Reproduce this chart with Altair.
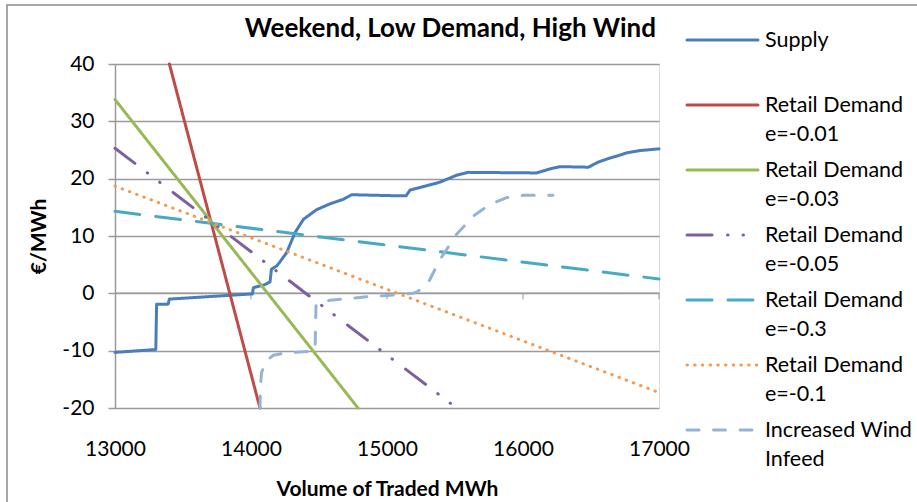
import altair as alt
import pandas as pd

FONT = "Lato"
GRID = "#9a9a9a"

TITLE = "Weekend, Low Demand, High Wind"
X_TITLE = "Volume of Traded MWh"
Y_TITLE = "€/MWh"

x_ticks = [13000, 14000, 15000, 16000, 17000]
y_ticks = [-20, -10, 0, 10, 20, 30, 40]

series_names = [
    "Supply",
    "Retail Demand e=-0.01",
    "Retail Demand e=-0.03",
    "Retail Demand e=-0.05",
    "Retail Demand e=-0.3",
    "Retail Demand e=-0.1",
    "Increased Wind Infeed",
]
legend_labels = [
    "Supply",
    "Retail Demand\ne=-0.01",
    "Retail Demand\ne=-0.03",
    "Retail Demand\ne=-0.05",
    "Retail Demand\ne=-0.3",
    "Retail Demand\ne=-0.1",
    "Increased Wind\nInfeed",
]
series_colors = ["#4a7ebb", "#be4b48", "#98b954", "#7d60a0", "#46aac5", "#f59a4f", "#95b3d7"]
series_dash = [[1, 0], [1, 0], [1, 0], [25, 15.5, 0.5, 15, 0.5, 16.5], [25, 16], [0.5, 7.2], [12, 14.5]]

supply_x = [13000, 13300, 13306, 13390, 13400, 14010, 14018, 14100, 14140, 14150, 14190, 14213,
            14262, 14324, 14385, 14483, 14580, 14679, 14740, 15100, 15140, 15169, 15267, 15390,
            15512, 15598, 16100, 16199, 16272, 16481, 16554, 16640, 16700, 16762, 16860, 17000]
supply_y = [-10.3, -9.8, -1.9, -1.9, -1.0, -0.1, 1.0, 1.5, 2.0, 4.2, 4.8, 5.5,
            7.1, 10.6, 12.9, 14.6, 15.6, 16.4, 17.2, 17.0, 17.0, 18.0, 18.6, 19.4,
            20.6, 21.1, 21.0, 21.7, 22.1, 22.0, 22.9, 23.6, 24.0, 24.5, 24.9, 25.2]

d001_x = [13400, 14066]
d001_y = [40, -20]
d003_x = [13000, 14787]
d003_y = [33.8, -20]
d005_x = [13000, 15512]
d005_y = [25.3, -20]
d03_x = [13000, 17000]
d03_y = [14.3, 2.5]
d01_x = [13000, 17000]
d01_y = [18.7, -17.3]

wind_x = [14066, 14070, 14078, 14110, 14164, 14238, 14471, 14478, 14581, 14851, 15022, 15193,
          15230, 15304, 15390, 15512, 15635, 15757, 15880, 16002, 16220]
wind_y = [-20, -16, -13.8, -11.8, -10.8, -10.45, -10.05, -1.9, -1.2, -0.6, -0.35, 0.0,
          0.4, 1.9, 5.9, 10.3, 13.5, 15.5, 16.7, 17.1, 17.1]

series_xy = [
    (supply_x, supply_y),
    (d001_x, d001_y),
    (d003_x, d003_y),
    (d005_x, d005_y),
    (d03_x, d03_y),
    (d01_x, d01_y),
    (wind_x, wind_y),
]

rows = []
for name, (xs, ys) in zip(series_names, series_xy):
    for i, (xv, yv) in enumerate(zip(xs, ys)):
        rows.append({"series": name, "x": xv, "y": yv, "i": i})
df = pd.DataFrame(rows)

legend_df = pd.DataFrame({"series": series_names, "label": legend_labels,
                          "order": list(range(len(series_names)))})

W, H = 544, 344
LEG_TOP, LEG_STEP = -24, 65

color_enc = alt.Color("series:N", scale=alt.Scale(domain=series_names, range=series_colors), legend=None)
dash_enc = alt.StrokeDash("series:N", scale=alt.Scale(domain=series_names, range=series_dash), legend=None)

x_enc = alt.X("x:Q", scale=alt.Scale(domain=[13000, 17000], nice=False, zero=False),
              axis=alt.Axis(values=x_ticks, format="d", title=X_TITLE, grid=False, domain=False,
                            ticks=False, tickSize=0, labelPadding=30, titlePadding=19, labelFlush=False,
                            labelFont=FONT, labelFontSize=21, labelColor="black",
                            titleFont=FONT, titleFontSize=21, titleFontWeight="bold", titleColor="black"))
y_enc = alt.Y("y:Q", scale=alt.Scale(domain=[-20, 40], nice=False, zero=False),
              axis=alt.Axis(values=y_ticks, title=Y_TITLE, grid=True, gridColor=GRID, gridWidth=1.5,
                            domain=True, domainColor=GRID, domainWidth=1.5,
                            ticks=True, tickSize=7, tickColor=GRID, tickWidth=1.5,
                            labelPadding=14, titlePadding=12, labelExpr="'' + datum.value",
                            labelFont=FONT, labelFontSize=21, labelColor="black",
                            titleFont=FONT, titleFontSize=21, titleFontWeight="bold", titleColor="black"))

lines = alt.Chart(df).mark_line(strokeWidth=3, strokeCap="round", strokeJoin="round").encode(
    x=x_enc, y=y_enc, color=color_enc, strokeDash=dash_enc, order="i:Q"
)

zero_rule = alt.Chart(pd.DataFrame({"y": [0]})).mark_rule(color=GRID, strokeWidth=1.5).encode(
    y=alt.Y("y:Q")
)
zero_ticks = alt.Chart(pd.DataFrame({"x": x_ticks[1:]})).mark_tick(
    orient="vertical", size=6, thickness=1.5, color=GRID, yOffset=3
).encode(x=alt.X("x:Q"), y=alt.datum(0))

main = alt.layer(zero_rule, zero_ticks, lines)

leg_y = alt.Y("order:Q", scale=alt.Scale(domain=[0, 6], range=[LEG_TOP, LEG_TOP + 6 * LEG_STEP]), axis=None)
leg_rules = alt.Chart(legend_df).mark_rule(strokeWidth=3, strokeCap="round").encode(
    x=alt.value(572), x2=alt.value(643), y=leg_y, color=color_enc, strokeDash=dash_enc
)
leg_text = alt.Chart(legend_df).mark_text(
    align="left", baseline="alphabetic", dy=7, lineBreak="\n", lineHeight=29,
    font=FONT, fontSize=21.5, color="black"
).encode(x=alt.value(650), y=leg_y, text="label:N")
legend = alt.layer(leg_rules, leg_text)

border = alt.Chart(pd.DataFrame({"a": [0]})).mark_rect(
    fill="transparent", stroke="#8a8a8a", strokeWidth=1.5
).encode(x=alt.value(-108), x2=alt.value(820), y=alt.value(-59), y2=alt.value(460))

chart = alt.layer(main, legend, border).resolve_scale(y="independent").properties(
    width=W, height=H,
    padding={"left": 115, "top": 64, "right": 917 - 115 - W, "bottom": 502 - 64 - H},
    autosize=alt.AutoSizeParams(type="none"),
    title=alt.TitleParams(TITLE, anchor="end", frame="group", font=FONT, fontSize=26,
                          fontWeight="bold", color="black", baseline="alphabetic",
                          offset=-59, dx=-3),
).configure_view(stroke=None).configure(background="white")

chart.save("out.html", embed_options={"renderer": "svg", "actions": False})
